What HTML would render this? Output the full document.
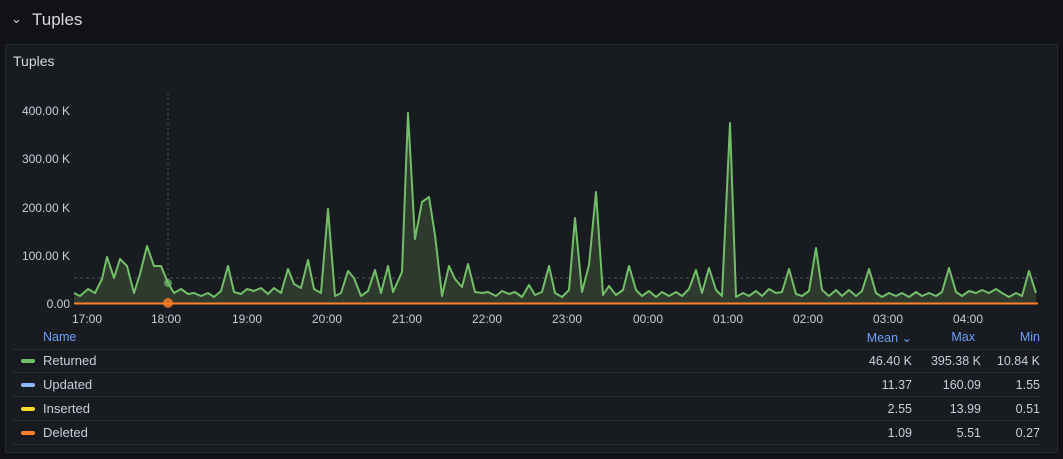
<!DOCTYPE html>
<html><head><meta charset="utf-8"><style>
body{margin:0;width:1063px;height:459px;background:#111217;font-family:"Liberation Sans",sans-serif;color:#ccccdc;overflow:hidden;position:relative}
.a{position:absolute;white-space:nowrap}
.panel{position:absolute;left:5px;top:44px;width:1051px;height:407px;background:#181b1f;border:1px solid #2a2c33;border-radius:2px}
.yl{font-size:12px;color:#ccccdc;text-align:right;width:60px;left:10px}
.xl{font-size:12px;color:#ccccdc}
.row{position:absolute;left:13px;width:1025px;height:1px;background:#2b2d33}
.nm{font-size:13px;color:#ccccdc;left:43px}
.sw{position:absolute;left:21px;width:14px;height:4px;border-radius:2px}
.v{font-size:12.5px;text-align:right;color:#ccccdc}
.h{font-size:12.5px;color:#6e9fff;text-align:right}
</style></head><body>
<div class="a" style="left:11px;top:11px;font-size:13px;color:#ccccdc">&#8964;</div>
<div class="a" style="left:32px;top:10px;font-size:17px;color:#d8d9e0">Tuples</div>
<div class="panel"></div>
<div class="a" style="left:13px;top:53px;font-size:14px;color:#d8d9e0">Tuples</div>
<div class="a yl" style="top:104px">400.00 K</div>
<div class="a yl" style="top:152px">300.00 K</div>
<div class="a yl" style="top:201px">200.00 K</div>
<div class="a yl" style="top:249px">100.00 K</div>
<div class="a yl" style="top:297px">0.00</div>
<svg class="a" style="left:0;top:0" width="1063" height="459">
<line x1="168" y1="93" x2="168" y2="303" stroke="#555" stroke-dasharray="2,3"/>
<line x1="74" y1="278" x2="1038" y2="278" stroke="#555" stroke-dasharray="3,3"/>
<polygon fill="#2d3a2d" stroke="none" points="74,303 74,293 80,296 88,289 95,293 102,279 107,257 114,278 120,259 127,266 134,293 140,274 147,246 154,266 161,266 168,283 174,293 181,289 188,294 194,293 201,296 208,293 214,297 221,291 228,266 234,292 241,294 247,289 254,291 261,288 268,294 274,288 281,293 288,269 294,284 301,288 308,260 314,289 321,293 328,209 335,296 341,293 348,271 354,278 361,296 368,291 375,270 381,293 388,266 393,292 402,272 408,113 415,239 422,202 429,197 435,235 442,296 449,266 455,279 462,287 468,264 475,292 482,293 488,292 496,296 502,291 509,294 515,292 522,297 529,285 535,295 542,292 549,266 555,293 562,297 569,290 575,218 582,292 589,265 596,192 603,295 609,286 616,295 623,290 629,266 636,290 642,296 649,291 656,297 662,292 669,296 676,292 682,296 689,289 696,270 702,293 709,268 716,290 722,296 730,123 736,297 743,293 749,296 756,291 762,296 769,289 776,293 782,292 789,269 796,294 802,296 809,291 816,248 822,290 829,296 836,290 842,296 849,290 856,296 862,291 869,269 876,293 882,297 889,293 896,296 902,293 909,297 916,292 922,296 929,293 936,296 942,292 949,268 956,292 962,296 969,291 976,293 982,290 989,293 996,289 1002,293 1009,297 1016,293 1022,296 1029,271 1036,293 1036,303"/>
<polyline fill="none" stroke="#73bf69" stroke-width="2" stroke-linejoin="round" points="74,293 80,296 88,289 95,293 102,279 107,257 114,278 120,259 127,266 134,293 140,274 147,246 154,266 161,266 168,283 174,293 181,289 188,294 194,293 201,296 208,293 214,297 221,291 228,266 234,292 241,294 247,289 254,291 261,288 268,294 274,288 281,293 288,269 294,284 301,288 308,260 314,289 321,293 328,209 335,296 341,293 348,271 354,278 361,296 368,291 375,270 381,293 388,266 393,292 402,272 408,113 415,239 422,202 429,197 435,235 442,296 449,266 455,279 462,287 468,264 475,292 482,293 488,292 496,296 502,291 509,294 515,292 522,297 529,285 535,295 542,292 549,266 555,293 562,297 569,290 575,218 582,292 589,265 596,192 603,295 609,286 616,295 623,290 629,266 636,290 642,296 649,291 656,297 662,292 669,296 676,292 682,296 689,289 696,270 702,293 709,268 716,290 722,296 730,123 736,297 743,293 749,296 756,291 762,296 769,289 776,293 782,292 789,269 796,294 802,296 809,291 816,248 822,290 829,296 836,290 842,296 849,290 856,296 862,291 869,269 876,293 882,297 889,293 896,296 902,293 909,297 916,292 922,296 929,293 936,296 942,292 949,268 956,292 962,296 969,291 976,293 982,290 989,293 996,289 1002,293 1009,297 1016,293 1022,296 1029,271 1036,293"/>
<line x1="74" y1="303.5" x2="1038" y2="303.5" stroke="#ff7f2a" stroke-width="2"/>
<circle cx="168" cy="283" r="4" fill="#73bf69" opacity="0.7"/>
<circle cx="168" cy="303" r="5" fill="#ff7f2a" opacity="0.8"/>
</svg>
<div class="a xl" style="left:72px;top:312px">17:00</div>
<div class="a xl" style="left:151px;top:312px">18:00</div>
<div class="a xl" style="left:232px;top:312px">19:00</div>
<div class="a xl" style="left:312px;top:312px">20:00</div>
<div class="a xl" style="left:392px;top:312px">21:00</div>
<div class="a xl" style="left:472px;top:312px">22:00</div>
<div class="a xl" style="left:552px;top:312px">23:00</div>
<div class="a xl" style="left:633px;top:312px">00:00</div>
<div class="a xl" style="left:713px;top:312px">01:00</div>
<div class="a xl" style="left:793px;top:312px">02:00</div>
<div class="a xl" style="left:873px;top:312px">03:00</div>
<div class="a xl" style="left:953px;top:312px">04:00</div>
<div class="a" style="left:43px;top:330px;font-size:12.5px;color:#6e9fff">Name</div>
<div class="a h" style="left:840px;width:72px;top:330px">Mean &#8964;</div>
<div class="a h" style="left:910px;width:65px;top:330px">Max</div>
<div class="a h" style="left:975px;width:65px;top:330px">Min</div>
<div class="row" style="top:349px"></div>
<div class="row" style="top:372px"></div>
<div class="row" style="top:396px"></div>
<div class="row" style="top:420px"></div>
<div class="row" style="top:444px"></div>
<div class="sw" style="top:359px;background:#73bf69"></div>
<div class="sw" style="top:383px;background:#8ab8ff"></div>
<div class="sw" style="top:407px;background:#fade2a"></div>
<div class="sw" style="top:431px;background:#ff7f2a"></div>
<div class="a nm" style="top:353px">Returned</div>
<div class="a nm" style="top:377px">Updated</div>
<div class="a nm" style="top:401px">Inserted</div>
<div class="a nm" style="top:425px">Deleted</div>
<div class="a v" style="left:830px;width:82px;top:354px">46.40 K</div>
<div class="a v" style="left:900px;width:81px;top:354px">395.38 K</div>
<div class="a v" style="left:960px;width:80px;top:354px">10.84 K</div>
<div class="a v" style="left:830px;width:82px;top:378px">11.37</div>
<div class="a v" style="left:900px;width:81px;top:378px">160.09</div>
<div class="a v" style="left:960px;width:80px;top:378px">1.55</div>
<div class="a v" style="left:830px;width:82px;top:402px">2.55</div>
<div class="a v" style="left:900px;width:81px;top:402px">13.99</div>
<div class="a v" style="left:960px;width:80px;top:402px">0.51</div>
<div class="a v" style="left:830px;width:82px;top:426px">1.09</div>
<div class="a v" style="left:900px;width:81px;top:426px">5.51</div>
<div class="a v" style="left:960px;width:80px;top:426px">0.27</div>
</body></html>
